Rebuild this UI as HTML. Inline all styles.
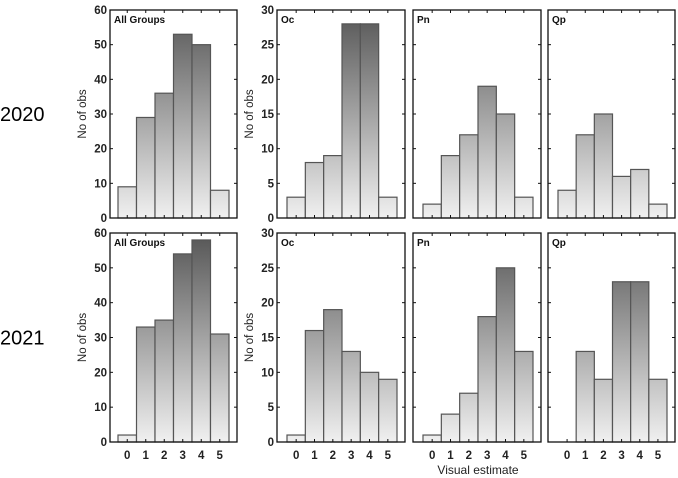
<!DOCTYPE html>
<html><head><meta charset="utf-8"><style>
html,body{margin:0;padding:0;background:#fff;}
svg{display:block;font-family:"Liberation Sans",sans-serif;}
</style></head><body>
<svg id="c" width="678" height="478"></svg>
<script>
const categories=[0,1,2,3,4,5];
const panelNames=["All Groups","Oc","Pn","Qp"];
const years=["2020","2021"];
const v2020All=[9,29,36,53,50,8];
const v2020Oc=[3,8,9,28,28,3];
const v2020Pn=[2,9,12,19,15,3];
const v2020Qp=[4,12,15,6,7,2];
const v2021All=[2,33,35,54,58,31];
const v2021Oc=[1,16,19,13,10,9];
const v2021Pn=[1,4,7,18,25,13];
const v2021Qp=[0,13,9,23,23,9];
const ticksAll=[0,10,20,30,40,50,60];
const ticksSp=[0,5,10,15,20,25,30];

const NS="http://www.w3.org/2000/svg";
const svg=document.getElementById('c');
function mk(t,a,p){const e=document.createElementNS(NS,t);for(const k in a)e.setAttribute(k,a[k]);(p||svg).appendChild(e);return e;}
const defs=mk('defs',{});
const rows=[{y0:10,y1:218,vals:[v2020All,v2020Oc,v2020Pn,v2020Qp]},{y0:233,y1:442,vals:[v2021All,v2021Oc,v2021Pn,v2021Qp]}];
const boxX=[[110,237],[277,405],[413,541],[548,675]];
const leftPad=[8,10,10,10];
rows.forEach((r,ri)=>{
  const g=mk('linearGradient',{id:'g'+ri,gradientUnits:'userSpaceOnUse',x1:0,y1:r.y1,x2:0,y2:r.y0},defs);
  mk('stop',{offset:'0','stop-color':'#f0f0f0'},g);
  mk('stop',{offset:'1','stop-color':'#555'},g);
  const yl=mk('text',{x:0,y:(r.y0+r.y1)/2+7,'font-size':'20'});yl.textContent=years[ri];
  
  
  r.vals.forEach((vals,pi)=>{
    const [bx0,bx1]=boxX[pi];
    const maxV=pi===0?60:30;
    const ticks=pi===0?ticksAll:ticksSp;
    const ys=v=>r.y1-(v/maxV)*(r.y1-r.y0);
    const lp=leftPad[pi];
    const bw=(bx1-bx0-lp-8)/6;
    const xs=i=>bx0+lp+i*bw;
    const grp=mk('g',{});
    
    
    vals.forEach((v,i)=>{
      if(v<=0)return;
      const b=mk('rect',{x:xs(i),y:ys(v),width:bw,height:ys(0)-ys(v),fill:'url(#g'+ri+')',stroke:'#555','stroke-width':1.2},grp);
      
      
    });
    mk('rect',{x:bx0,y:r.y0,width:bx1-bx0,height:r.y1-r.y0,fill:'none',stroke:'#111','stroke-width':1.3},grp);
    ticks.forEach(t=>{
      const y=ys(t);
      mk('line',{x1:bx0,x2:bx0+3,y1:y,y2:y,stroke:'#111'},grp);
      mk('line',{x1:bx1-3,x2:bx1,y1:y,y2:y,stroke:'#111'},grp);
      if(pi<2){const tl=mk('text',{x:bx0-3,y:y+4,'font-size':'11.5','text-anchor':'end','font-weight':'bold',fill:'#222'},grp);tl.textContent=t;
      }
    });
    categories.forEach((c,i)=>{
      const x=xs(i)+bw/2;
      mk('line',{x1:x,x2:x,y1:r.y1,y2:r.y1-3,stroke:'#111'},grp);
      mk('line',{x1:x,x2:x,y1:r.y0,y2:r.y0+3,stroke:'#111'},grp);
      if(ri===1){const tl=mk('text',{x:x,y:r.y1+17,'font-size':'11.5','text-anchor':'middle','font-weight':'bold',fill:'#222'},grp);tl.textContent=c;
      }
    });
    const tt=mk('text',{x:bx0+4,y:r.y0+13,'font-size':'10','font-weight':'bold',fill:'#111'},grp);tt.textContent=panelNames[pi];
    
    if(pi<2){const ya=mk('text',{transform:`translate(${bx0-24},${(r.y0+r.y1)/2}) rotate(-90)`,'font-size':'11.5','text-anchor':'middle',fill:'#222'},grp);ya.textContent='No of obs';
    }
  });
});
const xt=mk('text',{x:478,y:474,'font-size':'12','text-anchor':'middle',fill:'#222'});xt.textContent='Visual estimate';


</script>
</body></html>
